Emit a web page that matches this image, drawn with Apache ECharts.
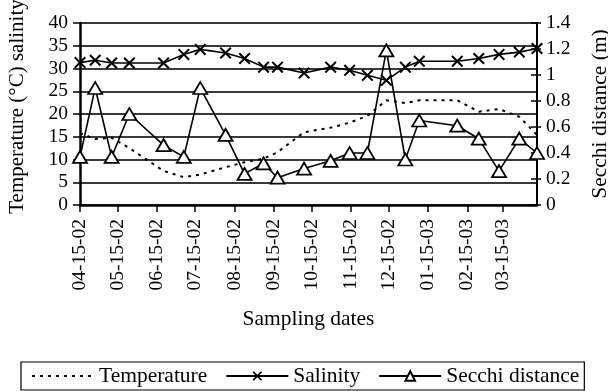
<!DOCTYPE html>
<html>
<head>
<meta charset="utf-8">
<script src="https://cdn.jsdelivr.net/npm/echarts@6/dist/echarts.min.js"></script>
<style>
html,body{margin:0;padding:0;background:#fff;}
#c{width:608px;height:391px;}
</style>
</head>
<body>
<div id="c"></div>
<script>
// Sampling dates (YYYY-MM-DD)
const sampleDates = ['2002-04-15','2002-04-27','2002-05-10','2002-05-24','2002-06-20','2002-07-06','2002-07-19','2002-08-08','2002-08-23','2002-09-07','2002-09-18','2002-10-09','2002-10-30','2002-11-14','2002-11-28','2002-12-13','2002-12-28','2003-01-08','2003-02-07','2003-02-24','2003-03-12','2003-03-28','2003-04-11'];
// Temperature (°C)
const temperature = [15.8,14.5,14.8,12.5,7.5,6.1,6.7,8.3,9.4,10.2,11.6,16.0,17.0,18.1,19.6,23.0,22.4,23.0,23.0,20.5,21.1,19.4,15.4];
// Salinity
const salinity = [31.3,31.8,31.2,31.2,31.2,33.1,34.2,33.4,32.2,30.3,30.3,29.0,30.3,29.6,28.5,27.4,30.3,31.6,31.6,32.2,33.1,33.6,34.4];
// Secchi distance (m)
const secchi = [0.37,0.90,0.37,0.70,0.46,0.37,0.90,0.54,0.24,0.32,0.21,0.28,0.34,0.40,0.40,1.19,0.35,0.65,0.61,0.51,0.26,0.51,0.40];
// X tick dates and labels
const tickDates = ['2002-04-15','2002-05-15','2002-06-15','2002-07-15','2002-08-15','2002-09-15','2002-10-15','2002-11-15','2002-12-15','2003-01-15','2003-02-15','2003-03-15'];
const tickLabels = ['04-15-02','05-15-02','06-15-02','07-15-02','08-15-02','09-15-02','10-15-02','11-15-02','12-15-02','01-15-03','02-15-03','03-15-03'];

const toUTC = s => { const p = s.split('-').map(Number); return Date.UTC(p[0], p[1]-1, p[2]); };
const t0 = toUTC(sampleDates[0]);
const dayOf = s => Math.round((toUTC(s) - t0) / 86400000);
const xs = sampleDates.map(dayOf);
const tickDays = tickDates.map(dayOf);
const labelMap = {};
tickDays.forEach((d,i)=>{ labelMap[d] = tickLabels[i]; });

const FONT = "'Liberation Serif','Times New Roman',serif";
const crossPath = 'path://M0,1.2L1.2,0L5,3.8L8.8,0L10,1.2L6.2,5L10,8.8L8.8,10L5,6.2L1.2,10L0,8.8L3.8,5Z';

const chart = echarts.init(document.getElementById('c'), null, {renderer:'canvas'});
chart.setOption({
  animation:false,
  backgroundColor:'#fff',
  textStyle:{fontFamily:FONT, color:'#000'},
  grid:{left:80, top:23, width:457, height:182, containLabel:false, outerBoundsMode:'none'},
  legend:{
    left:21, top:362,
    padding:[3,5,3,10],
    itemGap:18, itemWidth:62, itemHeight:12,
    borderColor:'#000', borderWidth:1.2,
    textStyle:{fontFamily:FONT, fontSize:21.5, color:'#000'},
    data:[{name:'Temperature', itemStyle:{color:'rgba(0,0,0,0)', borderWidth:0}},'Salinity','Secchi distance']
  },
  xAxis:{
    type:'value', min:0, max:xs[xs.length-1],
    name:'Sampling dates', nameLocation:'middle', nameGap:103,
    nameTextStyle:{fontFamily:FONT, fontSize:21.5, color:'#000'},
    axisLine:{show:true, onZero:false, lineStyle:{color:'#000', width:2.5}},
    axisTick:{show:true, length:7, lineStyle:{color:'#000', width:1.5}, customValues:tickDays},
    axisLabel:{rotate:90, margin:14, fontFamily:FONT, fontSize:19.5, color:'#000', customValues:tickDays,
      formatter:v=>labelMap[v] || ''},
    splitLine:{show:false}
  },
  yAxis:[
    {type:'value', min:0, max:40, interval:5, position:'left',
     name:'Temperature (°C) salinity', nameLocation:'middle', nameGap:52, nameRotate:90,
     nameTextStyle:{fontFamily:FONT, fontSize:21, color:'#000', padding:[0,0,0,15]},
     axisLine:{show:true, lineStyle:{color:'#000', width:2.5}},
     axisTick:{show:true, length:7, lineStyle:{color:'#000', width:1.5}},
     axisLabel:{margin:12, fontFamily:FONT, fontSize:19.5, color:'#000'},
     splitLine:{show:true, lineStyle:{color:'#3a3a3a', width:2}}},
    {type:'value', min:0, max:1.4, interval:0.2, position:'right',
     name:'Secchi distance (m)', nameLocation:'middle', nameGap:52, nameRotate:90,
     nameTextStyle:{fontFamily:FONT, fontSize:21.5, color:'#000'},
     axisLine:{show:true, lineStyle:{color:'#000', width:2}},
     axisTick:{show:true, length:4, lineStyle:{color:'#000', width:1.5}},
     axisLabel:{margin:9, fontFamily:FONT, fontSize:19.5, color:'#000', formatter:v=>String(+v.toFixed(1))},
     splitLine:{show:false}},
    {type:'value', min:0, max:1.4, interval:0.2, position:'right',
     axisLine:{show:false},
     axisTick:{show:true, inside:true, length:6, lineStyle:{color:'#000', width:1.5}},
     axisLabel:{show:false}, splitLine:{show:false}}
  ],
  series:[
    {name:'Temperature', type:'line', yAxisIndex:0, symbol:'none',
     data:xs.map((x,i)=>[x, temperature[i]]),
     lineStyle:{color:'#000', width:2, type:[3,5]}, itemStyle:{color:'#000'}, z:2},
    {name:'Salinity', type:'line', yAxisIndex:0, symbol:crossPath, symbolSize:12,
     data:xs.map((x,i)=>[x, salinity[i]]),
     lineStyle:{color:'#000', width:1.6}, itemStyle:{color:'#000'}, z:3},
    {name:'Secchi distance', type:'line', yAxisIndex:1, symbol:'triangle', symbolSize:[14,12],
     data:xs.map((x,i)=>[x, secchi[i]]),
     lineStyle:{color:'#000', width:1.6}, itemStyle:{color:'#fff', borderColor:'#000', borderWidth:1.8}, z:4}
  ]
});
</script>
</body>
</html>
